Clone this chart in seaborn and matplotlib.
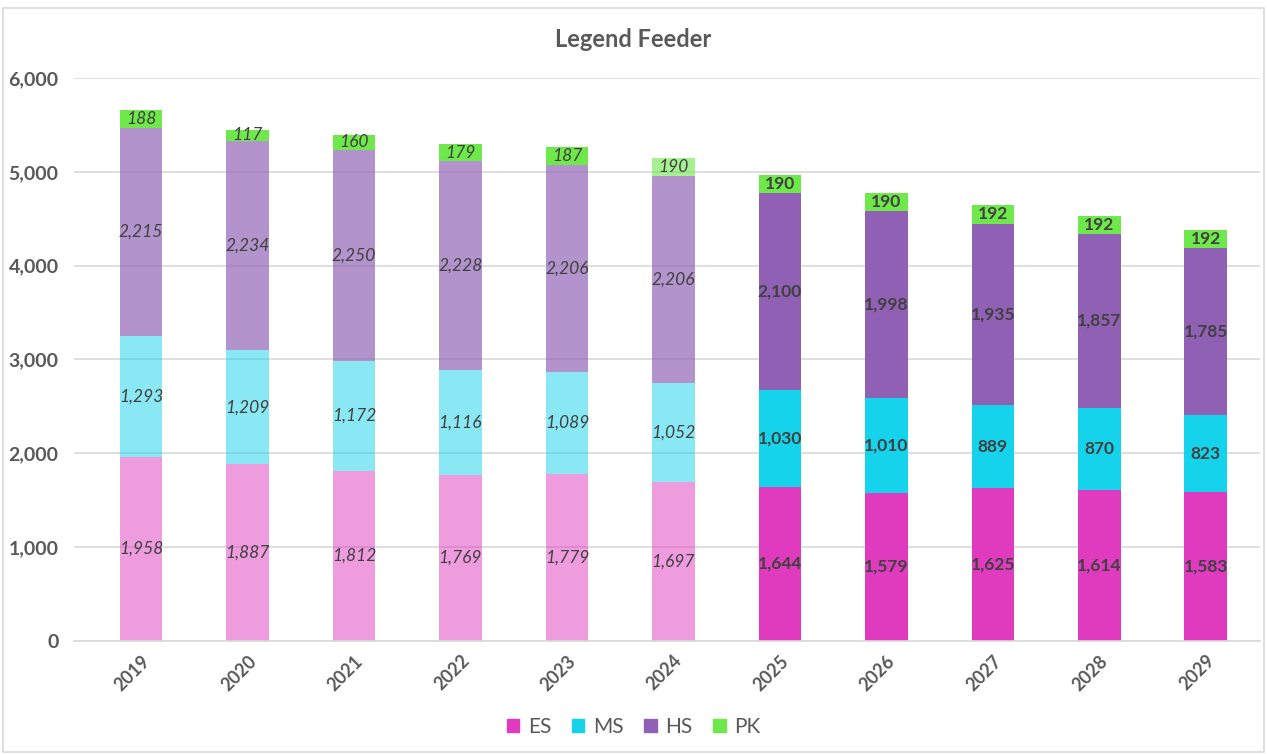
import numpy as np
import matplotlib
matplotlib.use("Agg")
import matplotlib.pyplot as plt
import matplotlib.patches as mpatches
import seaborn as sns

# data
years = ["2019", "2020", "2021", "2022", "2023", "2024",
         "2025", "2026", "2027", "2028", "2029"]
es = [1958, 1887, 1812, 1769, 1779, 1697, 1644, 1579, 1625, 1614, 1583]
ms = [1293, 1209, 1172, 1116, 1089, 1052, 1030, 1010, 889, 870, 823]
hs = [2215, 2234, 2250, 2228, 2206, 2206, 2100, 1998, 1935, 1857, 1785]
pk = [188, 117, 160, 179, 187, 190, 190, 190, 192, 192, 192]
n_hist = 6  # 2019-2024 are actuals, rest projected

series = ["ES", "MS", "HS", "PK"]
colors = {"ES": "#E03BBF", "MS": "#14D3EA", "HS": "#9060B5", "PK": "#6EE84A"}
hist_alpha = {"ES": 0.5, "MS": 0.5, "HS": 0.68, "PK": 1.0}

sns.set_style("white")
plt.rcParams["font.family"] = ["Lato", "DejaVu Sans"]

fig = plt.figure(figsize=(12.67, 7.54), dpi=100)
ax = fig.add_axes([0.0584, 0.1499, 0.9361, 0.7467])

values = {"ES": es, "MS": ms, "HS": hs, "PK": pk}
bottom = np.zeros(len(years))
for name in series:
    vals = np.array(values[name], dtype=float)
    sns.barplot(x=years, y=vals, bottom=bottom, color=colors[name],
                width=0.4, saturation=1, ax=ax, zorder=2)
    cont = ax.containers[-1]
    for i, (bar, v) in enumerate(zip(cont, vals)):
        bar.set_linewidth(0)
        if i < n_hist:
            a = hist_alpha[name]
            if name == "PK" and i == n_hist - 1:
                a = 0.6
            bar.set_alpha(a)
            style, weight = "italic", "normal"
        else:
            style, weight = "normal", "bold"
        cx = bar.get_x() + bar.get_width() / 2
        cy = bar.get_y() + bar.get_height() / 2
        ax.text(cx, cy, f"{int(v):,}", ha="center", va="center",
                fontsize=12.5, style=style, weight=weight,
                color="#404040", zorder=4)
    bottom += vals

ax.set_xlim(-0.63, 10.51)
ax.set_ylim(0, 6000)
ax.set_yticks(range(0, 6001, 1000))
ax.yaxis.set_major_formatter(matplotlib.ticker.FuncFormatter(lambda v, p: f"{int(v):,}"))
ax.grid(axis="y", color="#D9D9D9", linewidth=1.2, zorder=1)
ax.set_axisbelow(True)
for s in ["top", "right", "left"]:
    ax.spines[s].set_visible(False)
ax.spines["bottom"].set_color("#D9D9D9")
ax.spines["bottom"].set_linewidth(1.2)
ax.tick_params(axis="both", length=0, colors="#595959")
ax.tick_params(axis="y", pad=11)
ax.tick_params(axis="x", pad=8)
for lab in ax.get_yticklabels():
    lab.set_fontsize(14)
    lab.set_fontweight("bold")
plt.setp(ax.get_xticklabels(), rotation=45, fontsize=13, fontweight="bold",
         ha="right", va="top", rotation_mode="anchor")
ax.set_xlabel("")
ax.set_ylabel("")

fig.text(0.5, 0.947, "Legend Feeder", ha="center", va="center",
         fontsize=17, fontweight="bold", color="#595959")

handles = [mpatches.Patch(color=colors[s], label=s) for s in series]
fig.legend(handles=handles, loc="center", bbox_to_anchor=(0.5, 0.036), ncol=4,
           frameon=False, fontsize=15, handlelength=0.6, handleheight=0.6,
           columnspacing=1.0, handletextpad=0.4, labelcolor="#595959")

fig.patches.append(mpatches.Rectangle((0.002, 0.002), 0.996, 0.987,
                                      transform=fig.transFigure, fill=False,
                                      edgecolor="#D9D9D9", linewidth=1.2))

fig.savefig("out.png", dpi=100)
